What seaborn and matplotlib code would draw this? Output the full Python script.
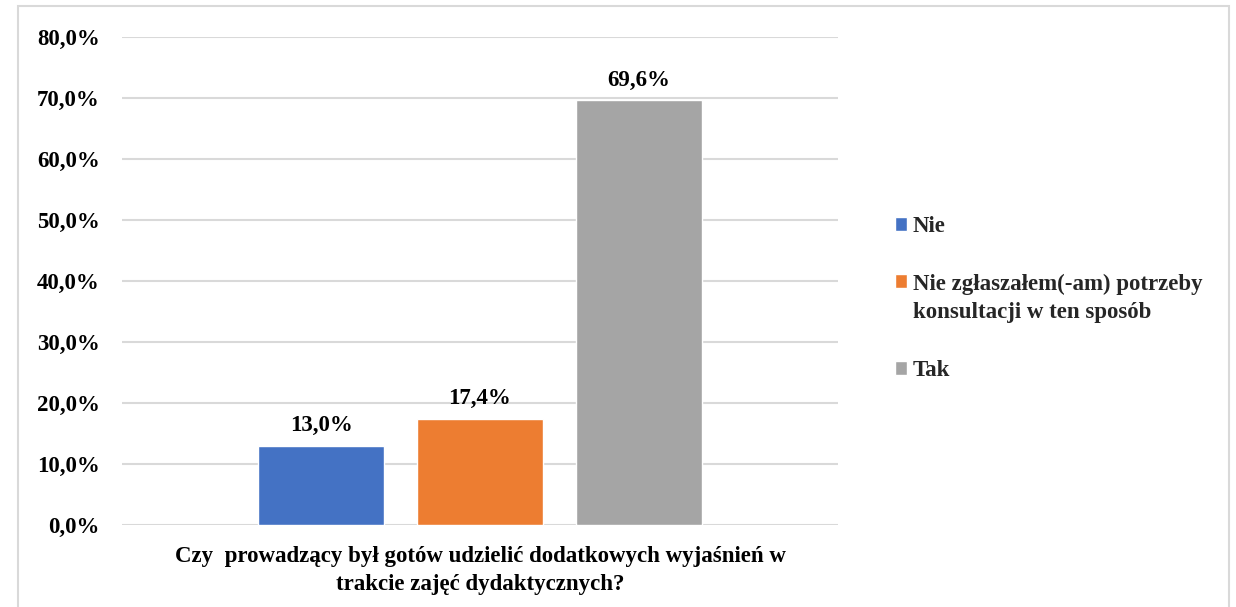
import matplotlib.pyplot as plt
import matplotlib.patches as mpatches
from matplotlib.ticker import FuncFormatter
import pandas as pd
import seaborn as sns

question = "Czy  prowadzący był gotów udzielić dodatkowych wyjaśnień w\ntrakcie zajęć dydaktycznych?"
answers = ["Nie", "Nie zgłaszałem(-am) potrzeby\nkonsultacji w ten sposób", "Tak"]
shares = [13.0, 17.4, 69.6]
colors = ["#4472C4", "#ED7D31", "#A5A5A5"]

sns.set_theme(style="white")
plt.rcParams["font.family"] = ["Liberation Serif", "DejaVu Serif"]
plt.rcParams["font.weight"] = "bold"

df = pd.DataFrame({
    "question": [question] * len(answers),
    "answer": answers,
    "share": [s / 100 for s in shares],
})

fig = plt.figure(figsize=(12.36, 6.07), dpi=100)
ax = fig.add_axes([122 / 1236, 1 - 525 / 607, 716 / 1236, 488 / 607])

sns.barplot(data=df, x="question", y="share", hue="answer", palette=colors,
            width=0.666, gap=0.21, saturation=1, ax=ax)

for cont, v in zip(ax.containers, shares):
    ax.bar_label(cont, labels=[f"{v:.1f}%".replace(".", ",")], padding=7,
                 fontsize=16.5, fontweight="bold", color="black")

ax.set_ylim(0, 0.8)
ax.set_yticks([i / 10 for i in range(9)])
ax.yaxis.set_major_formatter(FuncFormatter(lambda v, p: f"{v * 100:.1f}%".replace(".", ",")))
ax.yaxis.grid(True, color="#D9D9D9", linewidth=1.5)
ax.set_axisbelow(True)
sns.despine(ax=ax, left=True, bottom=True)
ax.tick_params(axis="y", length=0, pad=16, labelsize=16.5, labelcolor="black")
ax.tick_params(axis="x", length=0, pad=15, labelsize=16.5, labelcolor="black")
for lbl in ax.get_xticklabels():
    lbl.set_linespacing(1.45)
ax.set_xlabel("")
ax.set_ylabel("")

handles, labels = ax.get_legend_handles_labels()
ax.get_legend().remove()
leg = fig.legend(handles, labels, loc="center left", bbox_to_anchor=(874 / 1236, 0.508),
                 frameon=False, handlelength=0.55, handleheight=0.55, handletextpad=0.25,
                 labelspacing=1.6, fontsize=16.5)
for t in leg.get_texts():
    t.set_linespacing(1.45)
# square next to the first line of the wrapped entry, like Excel
rows = leg._legend_handle_box.get_children()[0].get_children()
rows[1].align = "top"

# chart border
fig.patches.append(mpatches.Rectangle((18 / 1236, -0.02), 1211 / 1236, 1.02 - 6 / 607,
                                      transform=fig.transFigure, fill=False,
                                      edgecolor="#D9D9D9", linewidth=1.5))

fig.savefig("out.png", dpi=100)
